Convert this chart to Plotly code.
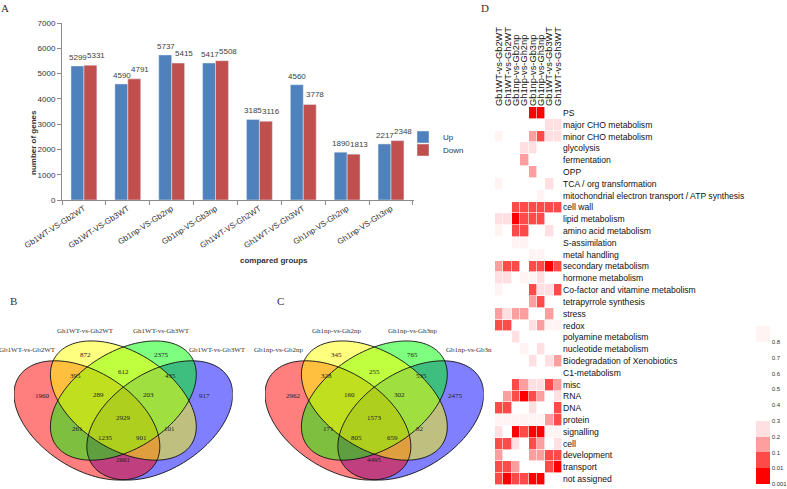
import numpy as np
import plotly.graph_objects as go

W, H = 787, 489
SANS = "Arial, Liberation Sans, sans-serif"
SERIF = "Times New Roman, Liberation Serif, serif"

# ---- panel A: DEG counts per comparison
groups = ['Gb1WT-VS-Gb2WT', 'Gb1WT-VS-Gb3WT', 'Gb1np-VS-Gb2np', 'Gb1np-VS-Gb3np',
          'Gh1WT-VS-Gh2WT', 'Gh1WT-VS-Gh3WT', 'Gh1np-VS-Gh2np', 'Gh1np-VS-Gh3np']
up_counts = [5299, 4590, 5737, 5417, 3185, 4560, 1890, 2217]
down_counts = [5331, 4791, 5415, 5508, 3116, 3778, 1813, 2348]
y_ticks = [0, 1000, 2000, 3000, 4000, 5000, 6000, 7000]

# ---- panels B and C: 4-set venn counts
# region keys: sets 1=red, 2=yellow, 3=green, 4=blue
venn_regions = ['1', '2', '3', '4', '12', '23', '34', '123', '234', '1234',
                '13', '24', '134', '124', '14']
venn_b_sets = ['Gb1WT-vs-Gb2WT', 'Gh1WT-vs-Gh2WT', 'Gh1WT-vs-Gh3WT', 'Gb1WT-vs-Gb3WT']
venn_b_counts = [1960, 872, 2375, 917, 395, 612, 435, 289, 203, 2929,
                 261, 101, 1235, 901, 2661]
venn_c_sets = ['Gb1np-vs-Gb2np', 'Gh1np-vs-Gh2np', 'Gh1np-vs-Gh3np', 'Gb1np-vs-Gb3n']
venn_c_counts = [2962, 345, 765, 2475, 328, 255, 535, 160, 302, 1573,
                 171, 82, 805, 659, 4495]

# ---- panel D: MapMan enrichment p-values (None = not enriched)
comparisons = ['Gb1WT-vs-Gb2WT', 'Gh1WT-vs-Gh2WT', 'Gb1np-vs-Gb2np', 'Gh1np-vs-Gh2np',
               'Gb1np-vs-Gb3np', 'Gh1np-vs-Gh3np', 'Gb1WT-vs-Gb3WT', 'Gh1WT-vs-Gh3WT']
pathways = ['PS', 'major CHO metabolism', 'minor CHO metabolism', 'glycolysis',
            'fermentation', 'OPP', 'TCA / org transformation',
            'mitochondrial electron transport / ATP synthesis', 'cell wall',
            'lipid metabolism', 'amino acid metabolism', 'S-assimilation',
            'metal handling', 'secondary metabolism', 'hormone metabolism',
            'Co-factor and vitamine metabolism', 'tetrapyrrole synthesis', 'stress',
            'redox', 'polyamine metabolism', 'nucleotide metabolism',
            'Biodegradation of Xenobiotics', 'C1-metabolism', 'misc', 'RNA', 'DNA',
            'protein', 'signalling', 'cell', 'development', 'transport', 'not assigned']
n = None
p_values = [
    [n, n, n, n, .005, .005, n, n],
    [n, n, n, n, n, n, .25, .25],
    [.9, n, n, n, .15, .05, .25, .25],
    [n, n, n, .25, .25, n, n, n],
    [n, n, n, .15, n, n, n, n],
    [n, n, n, n, .15, n, n, n],
    [.9, n, n, n, n, n, .25, n],
    [n, n, n, n, n, .9, n, n],
    [n, n, .05, .05, .05, .05, .05, .05],
    [.25, .25, .005, .05, .05, .05, n, n],
    [.9, n, .05, .05, n, n, .25, n],
    [n, n, .9, .9, n, n, n, n],
    [n, n, n, n, .9, .9, n, n],
    [.15, .05, .05, n, .05, .05, .005, .05],
    [.25, .25, n, .9, .9, .25, n, n],
    [.9, n, n, n, .05, .25, .25, .05],
    [n, n, n, n, .15, .05, n, n],
    [.15, .25, .15, .15, n, n, .15, n],
    [.05, .05, n, n, .25, .15, .9, .9],
    [n, n, .25, n, n, n, n, n],
    [n, n, n, .9, n, .25, n, n],
    [n, n, n, n, .25, n, .25, .15],
    [n, n, n, n, n, n, n, n],
    [n, n, .05, .15, .25, .25, .05, .15],
    [n, .15, .05, .005, .05, .15, n, .25],
    [.05, .05, n, n, .25, n, n, .05],
    [.9, .9, .9, .9, .9, .9, .15, .05],
    [.25, n, .005, .05, .005, .005, .9, .9],
    [.05, .05, .25, n, .05, .15, n, .25],
    [.15, n, n, n, .15, .15, .05, .05],
    [.05, .05, .15, n, n, n, .05, .005],
    [.05, .005, .05, .05, .005, .005, n, n],
]
p_breaks = [0.001, 0.01, 0.1, 0.2, 0.3, 0.4, 0.5, 0.6, 0.7, 0.8, 1.0]
p_ticks = ['0.001', '0.01', '0.1', '0.2', '0.3', '0.4', '0.5', '0.6', '0.7', '0.8']


def dom_x(a, b):
    return [a / W, b / W]


def dom_y(top, bottom):
    return [1 - bottom / H, 1 - top / H]


fig = go.Figure()

# ---------------- A: bar chart
fig.add_trace(go.Bar(x=groups, y=up_counts, name='Up', marker_color='#4F81BD',
                     xaxis='x', yaxis='y', legend='legend'))
fig.add_trace(go.Bar(x=groups, y=down_counts, name='Down', marker_color='#C0504D',
                     xaxis='x', yaxis='y', legend='legend2'))

annotations = []
for g, u, d in zip(groups, up_counts, down_counts):
    annotations.append(dict(x=g, y=u, xref='x', yref='y', text=str(u), showarrow=False,
                            yanchor='bottom', yshift=2, xshift=-6,
                            font=dict(size=8, color='#404040', family=SANS)))
    annotations.append(dict(x=g, y=d, xref='x', yref='y', text=str(d), showarrow=False,
                            yanchor='bottom', yshift=3, xshift=12,
                            font=dict(size=8, color='#404040', family=SANS)))

annotations.append(dict(x=238 / W, y=1 - 260 / H, xref='paper', yref='paper',
                        text='<b>compared groups</b>', showarrow=False,
                        font=dict(size=8, color='#333', family=SANS)))
annotations.append(dict(x=27 / W, y=1 - 108 / H, xref='paper', yref='paper',
                        text='<b>number of genes</b>', showarrow=False, textangle=-90,
                        font=dict(size=8, color='#333', family=SANS)))

# ---------------- B, C: venn diagrams
ell_centers = {'1': (0.35, 0.47, -45), '2': (0.5, 0.57, -45),
               '3': (0.5, 0.57, 45), '4': (0.65, 0.47, 45)}
ell_fill = {'1': 'rgba(255,0,0,0.5)', '2': 'rgba(255,255,0,0.5)',
            '3': 'rgba(0,255,0,0.5)', '4': 'rgba(0,0,255,0.5)'}
draw_order = ['4', '1', '3', '2']
A_AX, B_AX = 0.36, 0.225

region_pos = {'1': (0.167, 0.595), '2': (0.345, 0.801), '3': (0.655, 0.801),
              '4': (0.833, 0.595), '12': (0.305, 0.694), '23': (0.5, 0.714),
              '34': (0.695, 0.694), '123': (0.397, 0.597), '234': (0.603, 0.597),
              '1234': (0.5, 0.48), '13': (0.311, 0.426), '24': (0.689, 0.426),
              '134': (0.426, 0.384), '124': (0.574, 0.384), '14': (0.5, 0.272)}
set_label_pos = [(0.106, 0.825), (0.345, 0.92), (0.655, 0.92), (0.889, 0.825)]


def ellipse_path(cx, cy, ang):
    t = np.linspace(0, 2 * np.pi, 120)
    r = np.deg2rad(ang)
    xs = cx + A_AX * np.cos(t) * np.cos(r) - B_AX * np.sin(t) * np.sin(r)
    ys = cy + A_AX * np.cos(t) * np.sin(r) + B_AX * np.sin(t) * np.cos(r)
    return 'M ' + ' L '.join(f'{x:.4f},{y:.4f}' for x, y in zip(xs, ys)) + ' Z'


shapes = []
for xr, yr, sets, counts in [('x2', 'y2', venn_b_sets, venn_b_counts),
                             ('x3', 'y3', venn_c_sets, venn_c_counts)]:
    for k in draw_order:
        shapes.append(dict(type='path', path=ellipse_path(*ell_centers[k]), xref=xr, yref=yr,
                           fillcolor=ell_fill[k], line=dict(width=0)))
    for k in draw_order:
        shapes.append(dict(type='path', path=ellipse_path(*ell_centers[k]), xref=xr, yref=yr,
                           fillcolor='rgba(0,0,0,0)', line=dict(color='#111', width=0.9)))
    for reg, c in zip(venn_regions, counts):
        px_, py_ = region_pos[reg]
        annotations.append(dict(x=px_, y=py_, xref=xr, yref=yr, text=str(c), showarrow=False,
                                font=dict(size=7, color='#222', family=SERIF)))
    for name, (lx, ly) in zip(sets, set_label_pos):
        annotations.append(dict(x=lx, y=ly, xref=xr, yref=yr, text=name, showarrow=False,
                                font=dict(size=7, color='#333', family=SERIF)))

# ---------------- D: heatmap
p_arr = np.array([[np.nan if v is None else v for v in row] for row in p_values], dtype=float)
z = np.interp(p_arr, p_breaks, np.arange(len(p_breaks)))
z[np.isnan(p_arr)] = np.nan

colorscale = [[0.0, '#FF0000'], [0.1, '#FF0000'], [0.1, '#FF4A4A'], [0.2, '#FF4A4A'],
              [0.2, '#FF9E9E'], [0.3, '#FF9E9E'], [0.3, '#FFDFE2'], [0.4, '#FFDFE2'],
              [0.4, '#FFFFFF'], [0.9, '#FFFFFF'], [0.9, '#FFF3F4'], [1.0, '#FFF3F4']]

fig.add_trace(go.Heatmap(
    z=z, x=comparisons, y=pathways, xaxis='x4', yaxis='y4',
    colorscale=colorscale, zmin=0, zmax=10, xgap=0.6, ygap=0.6,
    hoverongaps=False,
    colorbar=dict(x=756 / W, xanchor='left', y=1 - 484 / H, yanchor='bottom',
                  len=158 / H, lenmode='fraction', thickness=14, xpad=0, ypad=0,
                  outlinewidth=0, tickvals=list(range(10)), ticktext=p_ticks,
                  ticks='', tickfont=dict(size=6, color='#333', family=SANS)),
))

# panel letters
for letter, lx, ly in [('A', 5, 8), ('B', 13, 301), ('C', 280, 301), ('D', 485, 8)]:
    annotations.append(dict(x=lx / W, y=1 - ly / H, xref='paper', yref='paper', text=letter,
                            showarrow=False, xanchor='center', yanchor='middle',
                            font=dict(size=11, color='#333', family=SERIF)))

# venn y range reaches above the ellipses so the set names stay visible
VY0, VY1 = 0.15, 0.95
v_top = 341 - (VY1 - 0.87) * 199
v_bot = 480 + (0.17 - VY0) * 199
hidden = dict(visible=False, showgrid=False, zeroline=False, automargin=False)
legend_style = dict(xanchor='left', yanchor='middle', itemwidth=30,
                    font=dict(size=8, color='#333', family=SANS),
                    bgcolor='rgba(0,0,0,0)', borderwidth=0)

fig.update_layout(
    width=W, height=H, autosize=False,
    margin=dict(l=0, r=0, t=0, b=0, autoexpand=False),
    paper_bgcolor='white', plot_bgcolor='rgba(0,0,0,0)',
    barmode='group', bargap=0.41, bargroupgap=0,
    showlegend=True,
    legend=dict(x=403 / W, y=1 - 137 / H, **legend_style),
    legend2=dict(x=403 / W, y=1 - 150 / H, **legend_style),
    xaxis=dict(domain=dom_x(62, 414), anchor='y', type='category', automargin=False,
               showline=True, linecolor='#8c8c8c', linewidth=1,
               ticks='outside', tickson='boundaries', ticklen=4, tickcolor='#8c8c8c',
               tickangle=-33, tickfont=dict(size=8, color='#333', family=SANS),
               showgrid=False),
    yaxis=dict(domain=dom_y(23, 200), anchor='x', range=[0, 7000], automargin=False,
               tickvals=y_ticks, showline=True, linecolor='#8c8c8c', linewidth=1,
               ticks='outside', ticklen=4, tickcolor='#8c8c8c',
               tickfont=dict(size=8, color='#333', family=SANS),
               showgrid=False, zeroline=False),
    xaxis2=dict(domain=dom_x(14, 232.7), anchor='y2', range=[0.05, 0.95], **hidden),
    yaxis2=dict(domain=dom_y(v_top, v_bot), anchor='x2', range=[VY0, VY1], **hidden),
    xaxis3=dict(domain=dom_x(265, 483.7), anchor='y3', range=[0.05, 0.95], **hidden),
    yaxis3=dict(domain=dom_y(v_top, v_bot), anchor='x3', range=[VY0, VY1], **hidden),
    xaxis4=dict(domain=dom_x(495, 562), anchor='y4', side='top', tickangle=-90,
                tickmode='array', tickvals=comparisons, ticktext=comparisons,
                tickfont=dict(size=9.3, color='#111', family=SANS), automargin=False,
                showgrid=False, zeroline=False, showline=False, ticks=''),
    yaxis4=dict(domain=dom_y(107, 485), anchor='x4', side='right', autorange='reversed',
                tickmode='array', tickvals=pathways, ticktext=pathways,
                tickfont=dict(size=8.6, color='#111', family=SANS), automargin=False,
                showgrid=False, zeroline=False, showline=False, ticks=''),
    shapes=shapes,
    annotations=annotations,
)

# the page body has a default 8px margin; drop it so the figure fills the window
fig.write_html("out.html", config={'displayModeBar': False},
               post_script="document.body.style.margin='0';")
